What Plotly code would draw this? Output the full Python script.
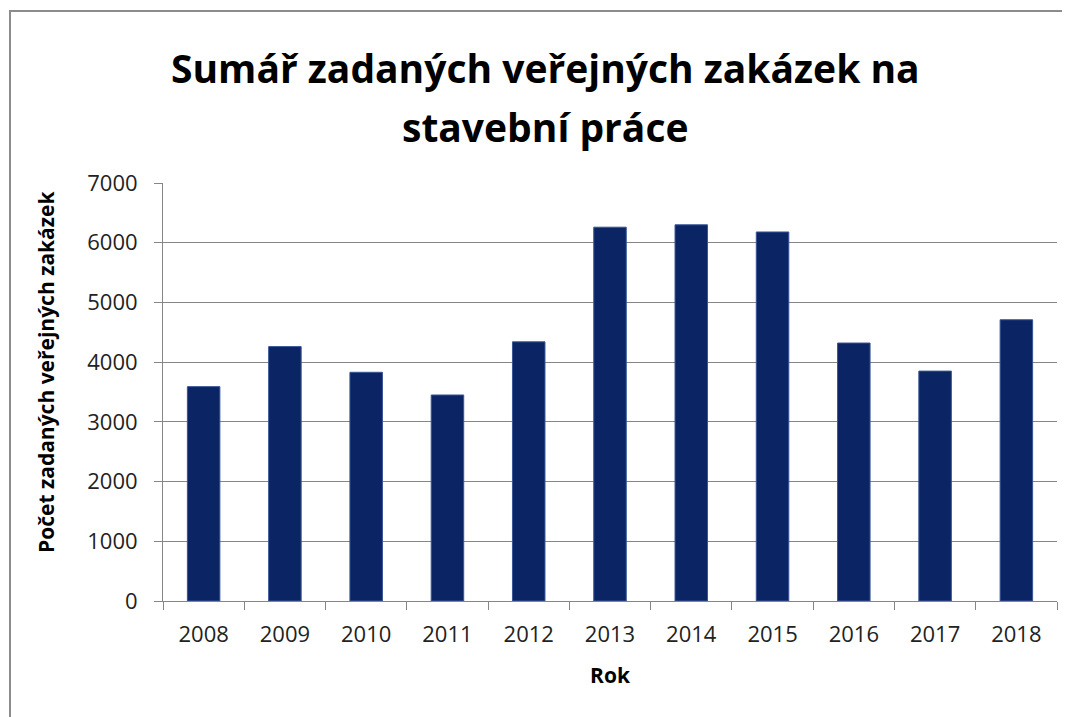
import plotly.graph_objects as go

years = ["2008", "2009", "2010", "2011", "2012", "2013", "2014", "2015", "2016", "2017", "2018"]
counts = [3590, 4260, 3830, 3450, 4340, 6260, 6300, 6180, 4320, 3850, 4710]
y_ticks = [0, 1000, 2000, 3000, 4000, 5000, 6000, 7000]
title_lines = ["Sumář zadaných veřejných zakázek na", "stavební práce"]
y_title = "Počet zadaných veřejných zakázek"

# page has an 8px body margin, so the figure is sized to fit the window
OFF = 8
W, H = 1062, 709
L, R, T, B = 155, 13, 175, 116
pw, ph = W - L - R, H - T - B

FONT = "'Open Sans', Lato, sans-serif"


def px(xp):
    return (xp - OFF - L) / pw


def py(yp):
    return 1 - (yp - OFF - T) / ph


fig = go.Figure()
fig.add_trace(go.Bar(
    x=years, y=counts,
    marker=dict(color="#0b2463", line=dict(color="#3a5596", width=1)),
    width=0.4,
))

annotations = []
for text, yp in zip(title_lines, [68, 126]):
    annotations.append(dict(
        text="<b>" + text + "</b>", xref="paper", yref="paper",
        x=px(545), y=py(yp), xanchor="center", yanchor="middle",
        showarrow=False, font=dict(family=FONT, size=39, color="black"),
    ))
annotations.append(dict(
    text="<b>" + y_title + "</b>", xref="paper", yref="paper",
    x=px(46), y=py(372), xanchor="center", yanchor="middle", textangle=-90,
    showarrow=False, font=dict(family=FONT, size=21, color="black"),
))

fig.update_layout(
    width=W, height=H,
    margin=dict(l=L, r=R, t=T, b=B),
    paper_bgcolor="white", plot_bgcolor="white",
    showlegend=False,
    font=dict(family=FONT, color="#222222"),
    annotations=annotations,
    shapes=[dict(
        type="rect", xref="paper", yref="paper",
        x0=px(10), x1=px(W + OFF + 10),
        y0=py(H + OFF + 10), y1=py(11),
        line=dict(color="#8c8c8c", width=2), fillcolor="rgba(0,0,0,0)",
        layer="below",
    )],
)

fig.update_xaxes(
    type="category",
    showline=True, linecolor="#868686", linewidth=1,
    ticks="outside", ticklen=8, tickcolor="#868686", tickson="boundaries",
    ticklabelstandoff=14,
    tickfont=dict(size=22, color="#222222"),
    title=dict(text="<b>Rok</b>", font=dict(size=21, color="black"), standoff=20),
    showgrid=False,
)
fig.update_yaxes(
    range=[0, 7000], tickvals=y_ticks,
    showline=True, linecolor="#868686", linewidth=1,
    ticks="outside", ticklen=8, tickcolor="#868686",
    ticklabelstandoff=12,
    tickfont=dict(size=22, color="#222222"),
    showgrid=True, gridcolor="#868686", gridwidth=1,
    zeroline=False,
)

fig.write_html("out.html")
